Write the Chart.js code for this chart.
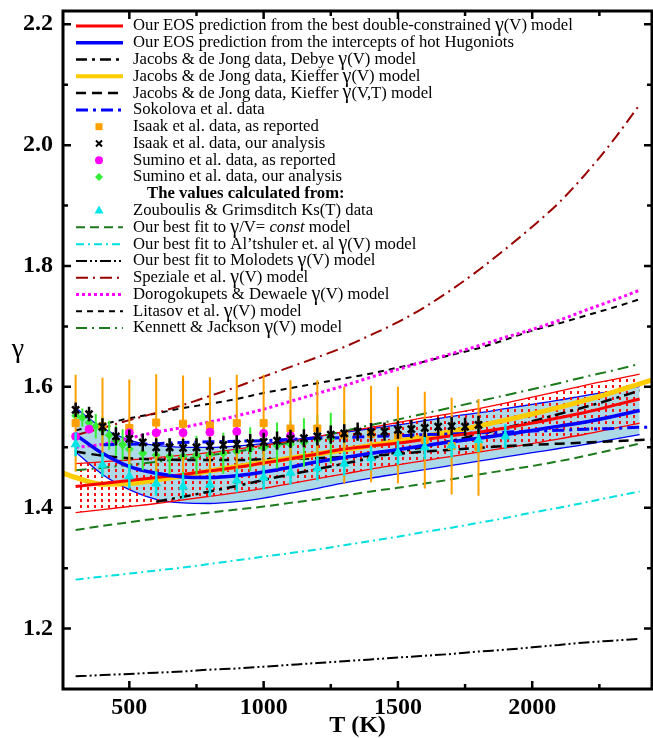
<!DOCTYPE html>
<html>
<head>
<meta charset="utf-8">
<script src="https://cdn.jsdelivr.net/npm/chart.js@4"></script>
<style>
html, body { margin: 0; padding: 0; background: #fff; }
#c { display: block; }
</style>
</head>
<body>
<canvas id="c" width="653" height="738"></canvas>
<script>
// temperature grid of the model curves (K)
var T = [300, 400, 500, 600, 700, 800, 900, 1000, 1100, 1200, 1300, 1400, 1500, 1600, 1700, 1800, 1900, 2000, 2100, 2200, 2300, 2400];

// our EOS predictions
var redBest  = [1.435, 1.44, 1.445, 1.45, 1.455, 1.461, 1.467, 1.474, 1.481, 1.489, 1.497, 1.502, 1.507, 1.513, 1.519, 1.525, 1.532, 1.54, 1.549, 1.558, 1.569, 1.58];
var redUpper = [1.473, 1.476, 1.479, 1.483, 1.487, 1.491, 1.497, 1.503, 1.51, 1.518, 1.526, 1.533, 1.541, 1.549, 1.556, 1.564, 1.573, 1.583, 1.593, 1.603, 1.612, 1.621];
var redLower = [1.392, 1.397, 1.402, 1.407, 1.413, 1.419, 1.425, 1.432, 1.44, 1.448, 1.456, 1.464, 1.471, 1.478, 1.485, 1.492, 1.499, 1.506, 1.514, 1.522, 1.531, 1.54];
var blueHug   = [1.521, 1.49, 1.468, 1.457, 1.451, 1.45, 1.453, 1.459, 1.467, 1.476, 1.483, 1.49, 1.496, 1.503, 1.509, 1.515, 1.521, 1.528, 1.535, 1.542, 1.551, 1.561];
var blueUpper = [1.565, 1.532, 1.512, 1.503, 1.5, 1.5, 1.502, 1.506, 1.512, 1.518, 1.525, 1.531, 1.537, 1.544, 1.551, 1.557, 1.564, 1.571, 1.578, 1.586, 1.593, 1.601];
var blueLower = [1.492, 1.455, 1.43, 1.414, 1.408, 1.407, 1.41, 1.416, 1.424, 1.432, 1.441, 1.449, 1.456, 1.463, 1.47, 1.477, 1.484, 1.491, 1.498, 1.505, 1.513, 1.521];

// Jacobs & de Jong, Sokolova
var Tdebye = [600, 700, 800, 900, 1000, 1100, 1200, 1300, 1400, 1500, 1600, 1700, 1800, 1900, 2000, 2100, 2200, 2300, 2400];
var debye  = [1.41, 1.418, 1.427, 1.436, 1.446, 1.455, 1.464, 1.473, 1.482, 1.492, 1.501, 1.511, 1.521, 1.532, 1.543, 1.555, 1.567, 1.58, 1.594];
var Tkief  = [250, 300, 400, 500, 600, 700, 800, 900, 1000, 1100, 1200, 1300, 1400, 1500, 1600, 1700, 1800, 1900, 2000, 2100, 2200, 2300, 2400, 2450];
var kiefV  = [1.458, 1.45, 1.439, 1.44, 1.446, 1.453, 1.461, 1.468, 1.475, 1.482, 1.489, 1.496, 1.503, 1.51, 1.518, 1.526, 1.535, 1.545, 1.555, 1.566, 1.578, 1.591, 1.605, 1.612];
var TkiefVT = [300, 400, 500, 600, 700, 800, 900, 1000, 1100, 1200, 1300, 1400, 1500, 1600, 1700, 1800, 1900, 2000, 2100, 2200, 2300, 2400, 2450];
var kiefVT  = [1.493, 1.486, 1.482, 1.48, 1.479, 1.479, 1.479, 1.48, 1.481, 1.482, 1.484, 1.486, 1.489, 1.493, 1.496, 1.499, 1.502, 1.504, 1.506, 1.508, 1.51, 1.512, 1.513];
var Tsok = [400, 500, 600, 700, 800, 900, 1000, 1100, 1200, 1300, 1400, 1500, 1600, 1700, 1800, 1900, 2000, 2100, 2200, 2300, 2400, 2450];
var sokolova = [1.504, 1.505, 1.506, 1.508, 1.509, 1.51, 1.511, 1.513, 1.515, 1.516, 1.518, 1.519, 1.521, 1.522, 1.524, 1.525, 1.527, 1.528, 1.53, 1.531, 1.533, 1.533];

// other gamma(V) models
var gammaConst = [1.363, 1.37, 1.376, 1.382, 1.387, 1.392, 1.397, 1.402, 1.408, 1.414, 1.42, 1.427, 1.433, 1.44, 1.447, 1.455, 1.462, 1.469, 1.477, 1.486, 1.496, 1.506];
var altshuler  = [1.281, 1.286, 1.291, 1.296, 1.301, 1.307, 1.313, 1.319, 1.325, 1.331, 1.338, 1.345, 1.352, 1.36, 1.367, 1.375, 1.383, 1.392, 1.4, 1.409, 1.418, 1.427];
var molodets   = [1.121, 1.123, 1.125, 1.127, 1.129, 1.132, 1.134, 1.137, 1.14, 1.143, 1.146, 1.149, 1.152, 1.155, 1.158, 1.162, 1.165, 1.169, 1.173, 1.177, 1.18, 1.183];
var speziale   = [1.52, 1.532, 1.545, 1.557, 1.57, 1.585, 1.6, 1.617, 1.633, 1.649, 1.666, 1.686, 1.707, 1.732, 1.761, 1.793, 1.828, 1.865, 1.905, 1.953, 2.007, 2.067];
var dorogokupets = [1.5, 1.505, 1.515, 1.525, 1.533, 1.542, 1.552, 1.563, 1.576, 1.589, 1.602, 1.616, 1.629, 1.642, 1.655, 1.668, 1.682, 1.695, 1.71, 1.727, 1.743, 1.76];
var litasov    = [1.528, 1.538, 1.548, 1.556, 1.565, 1.572, 1.58, 1.59, 1.598, 1.606, 1.614, 1.622, 1.632, 1.642, 1.653, 1.664, 1.678, 1.693, 1.705, 1.718, 1.731, 1.745];
var kennett    = [1.462, 1.466, 1.471, 1.476, 1.481, 1.487, 1.493, 1.5, 1.508, 1.517, 1.527, 1.537, 1.546, 1.556, 1.566, 1.576, 1.586, 1.596, 1.606, 1.617, 1.627, 1.638];

// measured points
var Tisaak = [300, 400, 500, 600, 700, 800, 900, 1000, 1100, 1200, 1300, 1400, 1500, 1600, 1700, 1800];
var isaakRep = [1.54, 1.535, 1.532, 1.541, 1.539, 1.536, 1.54, 1.54, 1.531, 1.531, 1.52, 1.522, 1.52, 1.512, 1.502, 1.5];
var isaakRepErr = [0.08, 0.08, 0.08, 0.08, 0.08, 0.08, 0.08, 0.08, 0.08, 0.08, 0.08, 0.08, 0.08, 0.08, 0.08, 0.08];
var TisaakAn = [300, 350, 400, 450, 500, 550, 600, 650, 700, 750, 800, 850, 900, 950, 1000, 1050, 1100, 1150, 1200, 1250, 1300, 1350, 1400, 1450, 1500, 1550, 1600, 1650, 1700, 1750, 1800];
var isaakAn = [1.562, 1.555, 1.534, 1.518, 1.514, 1.508, 1.5, 1.5, 1.499, 1.5, 1.502, 1.504, 1.505, 1.507, 1.509, 1.511, 1.514, 1.515, 1.518, 1.521, 1.523, 1.526, 1.525, 1.526, 1.529, 1.53, 1.532, 1.534, 1.535, 1.534, 1.537];
var isaakAnErr = [0.012, 0.012, 0.014, 0.015, 0.015, 0.015, 0.015, 0.015, 0.015, 0.015, 0.015, 0.015, 0.015, 0.015, 0.015, 0.015, 0.015, 0.015, 0.015, 0.015, 0.015, 0.015, 0.015, 0.015, 0.015, 0.015, 0.015, 0.015, 0.015, 0.015, 0.015];
var TsumRep = [300, 350, 500, 600, 700, 800, 900, 1000, 1100];
var suminoRep = [1.518, 1.53, 1.524, 1.524, 1.524, 1.525, 1.526, 1.523, 1.519];
var TsumAn = [300, 325, 350, 375, 400, 425, 450, 475, 500, 550, 600, 650, 700, 750, 800, 850, 900, 950, 1000, 1050, 1100, 1150, 1200, 1250, 1300];
var suminoAn = [1.552, 1.549, 1.541, 1.535, 1.529, 1.52, 1.511, 1.504, 1.497, 1.49, 1.487, 1.485, 1.485, 1.487, 1.488, 1.49, 1.493, 1.497, 1.499, 1.503, 1.505, 1.508, 1.513, 1.515, 1.518];
var suminoAnErr = [0.012, 0.015, 0.018, 0.02, 0.022, 0.024, 0.025, 0.026, 0.027, 0.028, 0.03, 0.03, 0.031, 0.032, 0.033, 0.034, 0.035, 0.036, 0.037, 0.038, 0.039, 0.04, 0.041, 0.042, 0.043];
var Tzou = [300, 400, 500, 600, 700, 800, 900, 1000, 1100, 1200, 1300, 1400, 1500, 1600, 1700, 1800, 1900];
var zouboulis = [1.505, 1.471, 1.452, 1.44, 1.435, 1.438, 1.445, 1.45, 1.458, 1.465, 1.473, 1.482, 1.491, 1.5, 1.503, 1.512, 1.518];
var zouErr = [0.02, 0.02, 0.02, 0.02, 0.02, 0.02, 0.02, 0.02, 0.02, 0.02, 0.02, 0.02, 0.02, 0.02, 0.02, 0.02, 0.02];

// axis ticks
var xMajor = [500, 1000, 1500, 2000];
var xMinor = [750, 1250, 1750, 2250];
var yMajor = [1.2, 1.4, 1.6, 1.8, 2.0, 2.2];
var yMinor = [1.3, 1.5, 1.7, 1.9, 2.1];

var FONT = '"Liberation Serif", "Times New Roman", serif';

function pts(xs, ys) {
  return xs.map(function (x, i) { return { x: x, y: ys[i] }; });
}
function bars(xs, ys, es) {
  var out = [];
  xs.forEach(function (x, i) {
    out.push({ x: x, y: ys[i] - es[i] }, { x: x, y: ys[i] + es[i] }, { x: x, y: null });
  });
  return out;
}
function curve(label, xs, ys, color, width, dash, order) {
  return {
    type: 'line', label: label, data: pts(xs, ys),
    borderColor: color, borderWidth: width, borderDash: dash || [],
    pointRadius: 0, fill: false, cubicInterpolationMode: 'monotone', order: order
  };
}
function marks(label, xs, ys, style, radius, color, border, order) {
  return {
    type: 'line', label: label, data: pts(xs, ys), showLine: false,
    pointStyle: style, pointRadius: radius,
    pointBackgroundColor: color, pointBorderColor: border || color,
    pointBorderWidth: style === 'crossRot' ? 2.5 : 1, order: order
  };
}
function errs(xs, ys, es, color, width, order) {
  return {
    type: 'line', label: '', data: bars(xs, ys, es), spanGaps: false,
    borderColor: color, borderWidth: width, pointRadius: 0, fill: false, order: order
  };
}

// red dotted hatch of the double-constrained band
var pc = document.createElement('canvas');
pc.width = 7; pc.height = 6;
var pctx = pc.getContext('2d');
pctx.fillStyle = '#ff1010';
pctx.fillRect(3, 1, 2, 3);
var dots = pctx.createPattern(pc, 'repeat');

var ds = [];
function add(o) { ds.push(o); return ds.length - 1; }

var iBlueUp = add(curve('hot Hugoniots, upper', T, blueUpper, '#0000ff', 1.3, [], 50));
var iBlueLo = add(curve('hot Hugoniots, lower', T, blueLower, '#0000ff', 1.3, [], 49));
ds[iBlueUp].fill = { target: iBlueLo };
ds[iBlueUp].backgroundColor = '#add8e6';
var iRedUp = add(curve('double-constrained, upper', T, redUpper, '#ff0000', 1.3, [], 48));
var iRedLo = add(curve('double-constrained, lower', T, redLower, '#ff0000', 1.3, [], 47));
ds[iRedUp].fill = { target: iRedLo };
ds[iRedUp].backgroundColor = dots;

var L = {};
L.red = add(curve('Our EOS prediction from the best double-constrained γ(V) model', T, redBest, '#ff0000', 3, [], 22));
L.blue = add(curve('Our EOS prediction from the intercepts of hot Hugoniots', T, blueHug, '#0000ff', 3.5, [], 21));
L.debye = add(curve('Jacobs & de Jong data, Debye γ(V) model', Tdebye, debye, '#000000', 2.5, [11, 5, 3, 5], 25));
L.kiefV = add(curve('Jacobs & de Jong data, Kieffer γ(V) model', Tkief, kiefV, '#ffcc00', 5, [], 24));
L.kiefVT = add(curve('Jacobs & de Jong data, Kieffer γ(V,T) model', TkiefVT, kiefVT, '#000000', 2.5, [10, 6], 26));
L.sok = add(curve('Sokolova et al. data', Tsok, sokolova, '#0000ff', 3, [12, 5, 3, 5], 23));
L.isaakRep = add(marks('Isaak et al. data, as reported', Tisaak, isaakRep, 'rect', 5, '#ffa000', '#ffa000', 6));
L.isaakAn = add(marks('Isaak et al. data, our analysis', TisaakAn, isaakAn, 'crossRot', 5, '#000000', '#000000', 0));
L.sumRep = add(marks('Sumino et al. data, as reported', TsumRep, suminoRep, 'circle', 4, '#ff00ff', '#ff00ff', 4));
L.sumAn = add(marks('Sumino et al. data, our analysis', TsumAn, suminoAn, 'rectRot', 4, '#33ee33', '#33ee33', 8));
L.zou = add(marks('Zouboulis & Grimsditch Ks(T) data', Tzou, zouboulis, 'triangle', 5, '#00e5e5', '#00e5e5', 2));
L.gconst = add(curve('Our best fit to γ/V= {const} model', T, gammaConst, '#1c7a1c', 2, [9, 5], 30));
L.alt = add(curve('Our best fit to Al’tshuler et. al γ(V) model', T, altshuler, '#00e0e0', 2, [8, 4, 2, 4], 31));
L.molo = add(curve('Our best fit to Molodets γ(V) model', T, molodets, '#000000', 2, [11, 3, 2, 3, 2, 3], 32));
L.spez = add(curve('Speziale et al. γ(V) model', T, speziale, '#990000', 2, [12, 5, 2, 5], 33));
L.doro = add(curve('Dorogokupets & Dewaele γ(V) model', T, dorogokupets, '#ff00ff', 3, [3, 3], 34));
L.lit = add(curve('Litasov et al. γ(V) model', T, litasov, '#000000', 2, [6, 5], 35));
L.kj = add(curve('Kennett & Jackson γ(V) model', T, kennett, '#1c7a1c', 2, [11, 5, 2, 5], 29));

add(errs(Tisaak, isaakRep, isaakRepErr, '#ffa000', 2, 7));
add(errs(TisaakAn, isaakAn, isaakAnErr, '#000000', 2.5, 1));
add(errs(TsumAn, suminoAn, suminoAnErr, '#33ee33', 2, 9));
add(errs(Tzou, zouboulis, zouErr, '#00e5e5', 2.5, 3));

var legendRows = [L.red, L.blue, L.debye, L.kiefV, L.kiefVT, L.sok, L.isaakRep, L.isaakAn, L.sumRep, L.sumAn,
  'The values calculated from:', L.zou, L.gconst, L.alt, L.molo, L.spez, L.doro, L.lit, L.kj];

function richText(ctx, text, x, y) {
  var parts = text.split(/(γ|\{[^}]*\})/);
  parts.forEach(function (p) {
    if (!p) return;
    if (p === 'γ') {
      ctx.font = '20px ' + FONT;
    } else if (p.charAt(0) === '{') {
      p = p.slice(1, -1);
      ctx.font = 'italic 16.7px ' + FONT;
    } else {
      ctx.font = '16.7px ' + FONT;
    }
    ctx.fillText(p, x, y);
    x += ctx.measureText(p).width;
  });
}

function marker(ctx, d, x, y) {
  var r = d.pointRadius;
  ctx.fillStyle = d.pointBackgroundColor;
  ctx.strokeStyle = d.pointBorderColor;
  ctx.beginPath();
  if (d.pointStyle === 'rect') {
    ctx.fillRect(x - 3.5, y - 3.5, 7, 7);
  } else if (d.pointStyle === 'circle') {
    ctx.arc(x, y, r, 0, Math.PI * 2); ctx.fill();
  } else if (d.pointStyle === 'rectRot') {
    ctx.moveTo(x, y - r); ctx.lineTo(x + r, y); ctx.lineTo(x, y + r); ctx.lineTo(x - r, y); ctx.closePath(); ctx.fill();
  } else if (d.pointStyle === 'triangle') {
    ctx.moveTo(x, y - r); ctx.lineTo(x + r * 0.9, y + r * 0.6); ctx.lineTo(x - r * 0.9, y + r * 0.6); ctx.closePath(); ctx.fill();
  } else if (d.pointStyle === 'crossRot') {
    ctx.lineWidth = 2;
    ctx.moveTo(x - 3, y - 3); ctx.lineTo(x + 3, y + 3);
    ctx.moveTo(x + 3, y - 3); ctx.lineTo(x - 3, y + 3); ctx.stroke();
  }
}

var framePlugin = {
  id: 'frame',
  afterDraw: function (chart) {
    var ctx = chart.ctx, a = chart.chartArea, sx = chart.scales.x, sy = chart.scales.y;
    ctx.save();
    ctx.strokeStyle = '#000';
    ctx.lineWidth = 3;
    ctx.strokeRect(a.left, a.top, a.right - a.left, a.bottom - a.top);
    ctx.lineWidth = 2.5;
    function tx(v, len) {
      var p = sx.getPixelForValue(v);
      ctx.beginPath();
      ctx.moveTo(p, a.bottom); ctx.lineTo(p, a.bottom - len);
      ctx.moveTo(p, a.top); ctx.lineTo(p, a.top + len);
      ctx.stroke();
    }
    function ty(v, len) {
      var p = sy.getPixelForValue(v);
      ctx.beginPath();
      ctx.moveTo(a.left, p); ctx.lineTo(a.left + len, p);
      ctx.moveTo(a.right, p); ctx.lineTo(a.right - len, p);
      ctx.stroke();
    }
    xMajor.forEach(function (v) { tx(v, 8); });
    xMinor.forEach(function (v) { tx(v, 5); });
    yMajor.forEach(function (v) { ty(v, 8); });
    yMinor.forEach(function (v) { ty(v, 5); });

    // axis titles
    ctx.fillStyle = '#000';
    ctx.textAlign = 'center';
    ctx.textBaseline = 'middle';
    ctx.font = 'bold 24px ' + FONT;
    ctx.fillText('T (K)', (a.left + a.right) / 2, 726);
    ctx.font = '28px ' + FONT;
    ctx.fillText('γ', 18, 350);

    // legend
    ctx.textAlign = 'left';
    legendRows.forEach(function (row, i) {
      var y = 26 + 16.78 * i;
      ctx.fillStyle = '#000';
      if (typeof row === 'string') {
        ctx.font = 'bold 16.7px ' + FONT;
        ctx.fillText(row, 147, y);
        return;
      }
      var d = chart.data.datasets[row];
      if (d.showLine === false) {
        marker(ctx, d, 99, y);
      } else {
        ctx.strokeStyle = d.borderColor;
        ctx.lineWidth = Math.min(d.borderWidth, 4);
        ctx.setLineDash(d.borderDash);
        ctx.beginPath();
        ctx.moveTo(76, y); ctx.lineTo(123, y);
        ctx.stroke();
        ctx.setLineDash([]);
      }
      ctx.fillStyle = '#000';
      richText(ctx, d.label, 133, y);
    });
    ctx.restore();
  }
};

var tickFont = { family: FONT, size: 24, weight: 'bold' };

new Chart(document.getElementById('c').getContext('2d'), {
  type: 'line',
  data: { datasets: ds },
  options: {
    responsive: false,
    animation: false,
    events: [],
    layout: { autoPadding: false, padding: { top: 11, right: 1, left: 0, bottom: 0 } },
    plugins: { legend: { display: false }, tooltip: { enabled: false } },
    scales: {
      x: {
        type: 'linear', min: 253, max: 2446,
        grid: { display: false, drawTicks: false },
        border: { display: false },
        afterFit: function (s) { s.height = 49; s.paddingLeft = 0; s.paddingRight = 0; },
        afterBuildTicks: function (s) { s.ticks = xMajor.map(function (v) { return { value: v }; }); },
        ticks: { font: tickFont, color: '#000', padding: 4, maxRotation: 0, callback: function (v) { return String(v); } }
      },
      y: {
        type: 'linear', min: 1.1, max: 2.222,
        grid: { display: false, drawTicks: false },
        border: { display: false },
        afterFit: function (s) { s.width = 63; s.paddingTop = 0; s.paddingBottom = 0; },
        afterBuildTicks: function (s) { s.ticks = yMajor.map(function (v) { return { value: v }; }); },
        ticks: { font: tickFont, color: '#000', padding: 10, callback: function (v) { return v.toFixed(1); } }
      }
    }
  },
  plugins: [framePlugin]
});
</script>
</body>
</html>
